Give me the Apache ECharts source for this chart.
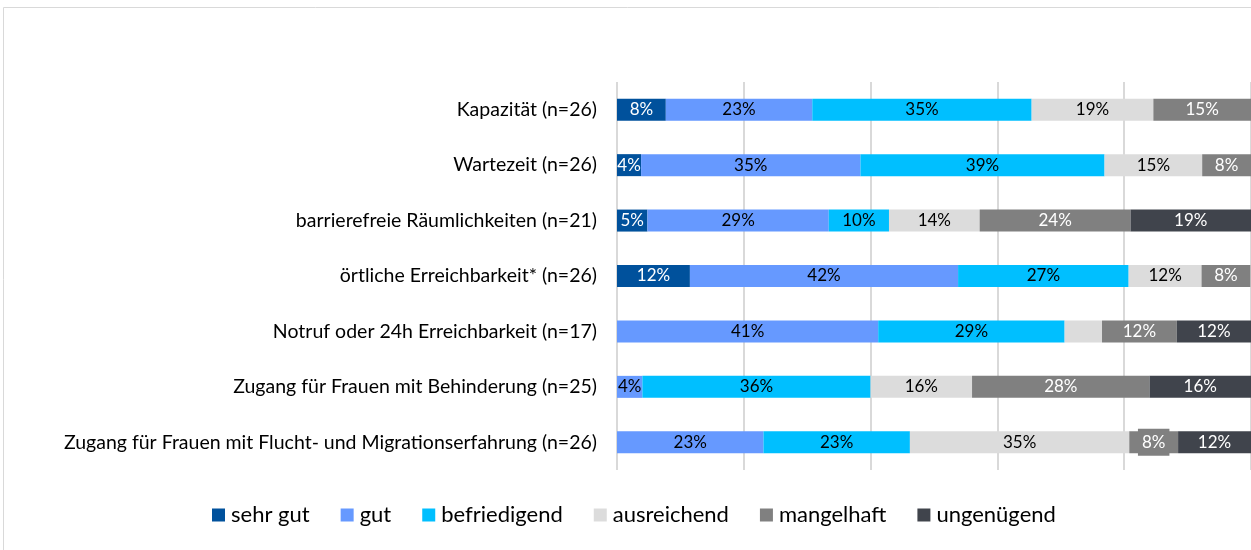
<!DOCTYPE html>
<html>
<head>
    <meta charset="utf-8">
    <title>Bewertung</title>
    <script src="https://cdn.jsdelivr.net/npm/echarts@6/dist/echarts.min.js"></script>
    <style>
        html, body { margin: 0; padding: 0; background: #fff; }
        #main { width: 1251px; height: 550px; }
    </style>
</head>
<body>
<div id="main"></div>
<script type="text/javascript">
    // Kategorien (von oben nach unten)
    var categories = [
        'Kapazität (n=26)',
        'Wartezeit (n=26)',
        'barrierefreie Räumlichkeiten (n=21)',
        'örtliche Erreichbarkeit* (n=26)',
        'Notruf oder 24h Erreichbarkeit (n=17)',
        'Zugang für Frauen mit Behinderung (n=25)',
        'Zugang für Frauen mit Flucht- und Migrationserfahrung (n=26)'
    ];

    // Anteile in Prozent
    var sehrGut      = [7.7, 3.8, 4.8, 11.5, 0, 0, 0];
    var gut          = [23.1, 34.6, 28.6, 42.3, 41.2, 4, 23.1];
    var befriedigend = [34.6, 38.5, 9.5, 26.9, 29.4, 36, 23.1];
    var ausreichend  = [19.2, 15.4, 14.3, 11.5, 5.9, 16, 34.6];
    var mangelhaft   = [15.4, 7.7, 23.8, 7.7, 11.8, 28, 7.7];
    var ungenuegend  = [0, 0, 19.0, 0, 11.8, 16, 11.5];

    var names = ['sehr gut', 'gut', 'befriedigend', 'ausreichend', 'mangelhaft', 'ungenügend'];
    var values = [sehrGut, gut, befriedigend, ausreichend, mangelhaft, ungenuegend];
    var colors = ['#00519C', '#6699FF', '#00BFFF', '#DCDCDC', '#808080', '#40444C'];
    var labelColors = ['#fff', '#000', '#000', '#000', '#fff', '#fff'];

    var font = 'Lato, "Open Sans", sans-serif';

    var series = names.map(function (name, s) {
        return {
            name: name,
            type: 'bar',
            stack: 'total',
            barWidth: 22,
            itemStyle: { color: colors[s] },
            label: {
                show: true,
                position: 'inside',
                color: labelColors[s],
                fontFamily: font,
                fontSize: 17,
                formatter: function (p) { return Math.round(p.value) + '%'; }
            },
            data: values[s].map(function (v, i) {
                var item = { value: v };
                if (v === 0) item.label = { show: false };
                // Notruf: ausreichend ohne Beschriftung
                if (s === 3 && i === 4) item.label = { show: false };
                // Flucht: mangelhaft mit Hintergrundkasten
                if (s === 4 && i === 6) {
                    item.label = { backgroundColor: '#808080', padding: [5, 4] };
                }
                return item;
            })
        };
    });

    var myChart = echarts.init(document.getElementById('main'));
    myChart.setOption({
        animation: false,
        textStyle: { fontFamily: font },
        graphic: [{
            type: 'rect',
            shape: { x: 3.5, y: 7.5, width: 1400, height: 700 },
            style: { fill: 'none', stroke: '#d9d9d9', lineWidth: 1 },
            silent: true
        }],
        grid: { left: 617, right: 0, top: 82, bottom: 80 },
        legend: {
            bottom: 24,
            left: 212,
            padding: 0,
            itemWidth: 13,
            itemHeight: 13,
            itemGap: 31,
            icon: 'rect',
            textStyle: { fontFamily: font, fontSize: 22, color: '#000', padding: [0, 0, 0, 1] },
            data: names
        },
        xAxis: {
            type: 'value',
            min: 0,
            max: 100,
            interval: 20,
            axisLabel: { show: false },
            axisLine: { show: false },
            axisTick: { show: false },
            splitLine: { lineStyle: { color: '#d9d9d9', width: 2 } }
        },
        yAxis: {
            type: 'category',
            inverse: true,
            data: categories,
            axisLine: { show: false },
            axisTick: { show: false },
            axisLabel: { color: '#000', fontSize: 19.5, fontFamily: font, margin: 20 }
        },
        series: series
    });
</script>
</body>
</html>
